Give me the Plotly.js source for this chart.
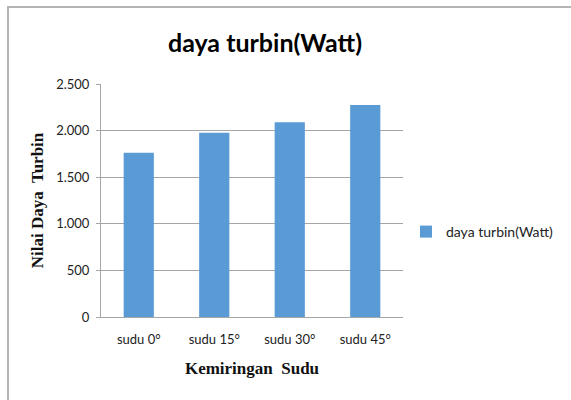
<!DOCTYPE html>
<html>
<head>
<meta charset="utf-8">
<script src="https://cdn.plot.ly/plotly-3.0.1.min.js"></script>
<style>
  html, body { margin: 0; padding: 0; background: #fff; }
  #frame { position: absolute; left: 7px; top: 6px; width: 620px; height: 420px; border: 2px solid #b4b4b4; box-sizing: border-box; }
  #chart { position: absolute; left: 0; top: 0; width: 571px; height: 400px; }
</style>
</head>
<body>
<div id="frame"></div>
<div id="chart"></div>
<script>
const categories = ["sudu 0°", "sudu 15°", "sudu 30°", "sudu 45°"];
const seriesName = "daya turbin(Watt)";
const values = [1763, 1977, 2089, 2275];
const yTickVals = [0, 500, 1000, 1500, 2000, 2500];

const trace = {
  type: "bar",
  x: categories,
  y: values,
  name: seriesName,
  marker: { color: "#5b9bd5" },
  showlegend: true
};

const layout = {
  width: 571,
  height: 400,
  paper_bgcolor: "rgba(0,0,0,0)",
  plot_bgcolor: "rgba(0,0,0,0)",
  margin: { l: 101, r: 166, t: 84, b: 83 },
  separators: ",.",
  bargap: 0.6,
  showlegend: true,
  title: {
    text: "<b>daya turbin(Watt)</b>",
    font: { family: "Lato, 'Open Sans', sans-serif", size: 25, color: "#000" },
    x: 265 / 571, xanchor: "center", xref: "container",
    y: 1 - 43 / 400, yanchor: "middle", yref: "container"
  },
  xaxis: {
    type: "category",
    showgrid: false,
    showline: true,
    linecolor: "#a6a6a6",
    linewidth: 1,
    ticks: "",
    ticklabelstandoff: 10,
    tickfont: { family: "Lato, sans-serif", size: 13, color: "#222" },
    title: {
      text: "<b>Kemiringan  Sudu</b>",
      font: { family: "'Liberation Serif', 'Times New Roman', serif", size: 17, color: "#111" },
      standoff: 16
    }
  },
  yaxis: {
    range: [0, 2500],
    tickvals: yTickVals,
    tickformat: ",",
    showgrid: true,
    gridcolor: "#a6a6a6",
    gridwidth: 1,
    showline: true,
    linecolor: "#a6a6a6",
    linewidth: 1,
    ticks: "outside",
    ticklen: 4,
    tickcolor: "#a6a6a6",
    ticklabelstandoff: 4,
    zeroline: false,
    tickfont: { family: "Lato, sans-serif", size: 13, color: "#222" },
    title: {
      text: "<b>Nilai Daya  Turbin</b>",
      font: { family: "'Liberation Serif', 'Times New Roman', serif", size: 17, color: "#111" },
      standoff: 8
    }
  },
  legend: {
    x: (408 - 101) / 304,
    xanchor: "left",
    y: 1 - (232 - 84) / 233,
    yanchor: "middle",
    itemwidth: 30,
    font: { family: "Lato, sans-serif", size: 14, color: "#222" },
    bgcolor: "rgba(0,0,0,0)"
  }
};

Plotly.newPlot("chart", [trace], layout, { displayModeBar: false, staticPlot: true });
</script>
</body>
</html>
